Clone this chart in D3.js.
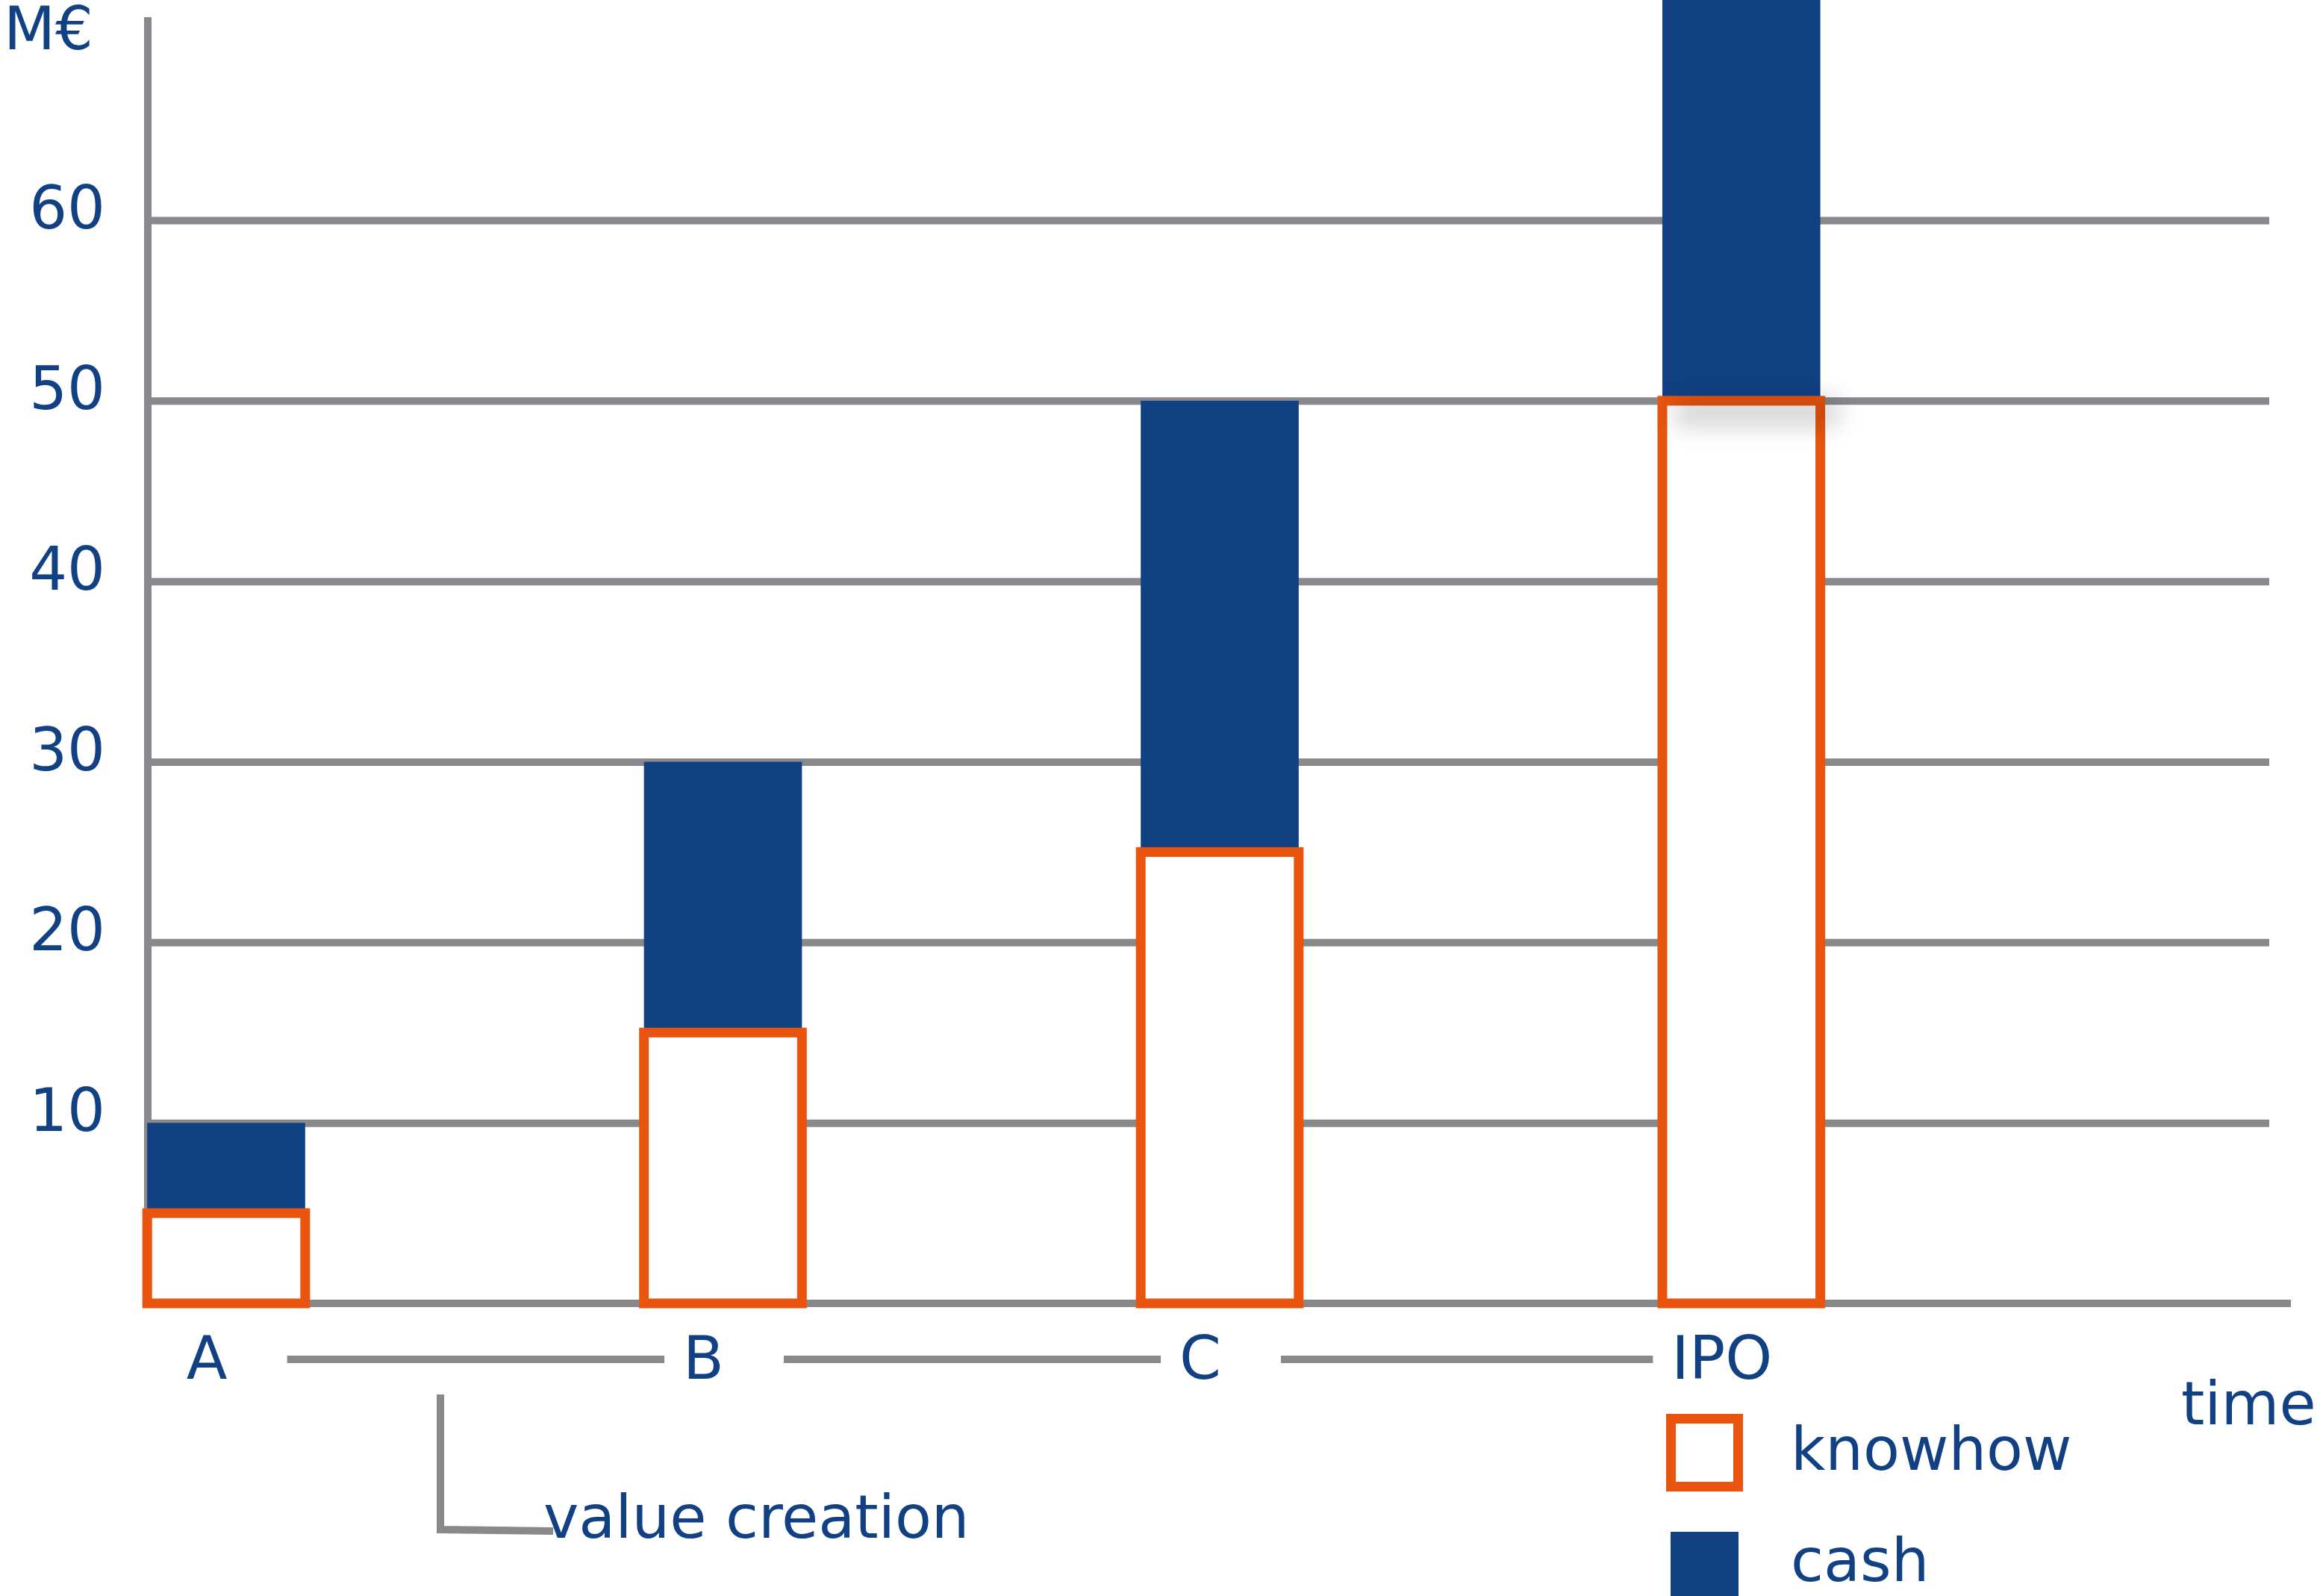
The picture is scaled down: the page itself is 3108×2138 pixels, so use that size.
<!DOCTYPE html>
<html>
<head>
<meta charset="utf-8">
<script src="https://cdn.jsdelivr.net/npm/d3@7"></script>
<style>
  html, body { margin: 0; padding: 0; background: #ffffff; }
  svg { display: block; }
  text { font-family: "DejaVu Sans", Verdana, sans-serif; }
</style>
</head>
<body>
<svg id="chart" width="3108" height="2138"></svg>
<script>
// Funding stages along the time axis
const stages = ["A", "B", "C", "IPO"];
// Position of each stage in time (stage intervals)
const stageTime = [0, 1, 2, 3.05];
// Value contributed by knowhow and by cash at each stage (M€)
const knowhow = [5, 15, 25, 50];
const cash = [5, 15, 25, 50];
// Value-axis tick labels
const yTicks = [10, 20, 30, 40, 50, 60];
const legendItems = ["knowhow", "cash"];

const BLUE = "#114183";
const ORANGE = "#E9550F";
const GREY = "#87898D";
const FONT = 80;

const svg = d3.select("#chart");
svg.append("rect").attr("width", 3108).attr("height", 2138).attr("fill", "#fff");

const axisX = 198, plotRight = 3040, baseRight = 3069;
const y = d3.scaleLinear().domain([0, 60]).range([1746, 295]);
const x = d3.scaleLinear().domain([0, 3.05]).range([303, 303 + 3.05 * 665.5]);
const barW = x(0.318) - x(0);
const strokeW = 13;

const defs = svg.append("defs");
defs.append("filter").attr("id", "soft")
  .attr("x", "-50%").attr("y", "-100%").attr("width", "200%").attr("height", "300%")
  .append("feGaussianBlur").attr("stdDeviation", 16);

// Horizontal gridlines
const grid = svg.append("g").attr("transform", `translate(${axisX},0)`)
  .call(d3.axisLeft(y).tickValues(yTicks).tickSize(-(plotRight - axisX)).tickFormat(""));
grid.select(".domain").remove();
grid.selectAll(".tick line").attr("stroke", GREY).attr("stroke-width", 10);

// Baseline and vertical axis
svg.append("line").attr("x1", axisX - 5).attr("x2", baseRight)
  .attr("y1", y(0)).attr("y2", y(0)).attr("stroke", GREY).attr("stroke-width", 10);
svg.append("line").attr("x1", axisX).attr("x2", axisX)
  .attr("y1", 23).attr("y2", y(0) + 5).attr("stroke", GREY).attr("stroke-width", 10);

// Tick labels
const yAxis = svg.append("g").attr("transform", "translate(141,0)")
  .call(d3.axisLeft(y).tickValues(yTicks).tickSize(0).tickPadding(0));
yAxis.select(".domain").remove();
yAxis.selectAll("text")
  .attr("font-size", FONT).attr("font-family", "DejaVu Sans, sans-serif")
  .attr("fill", BLUE).attr("dy", 10.5);

svg.append("text").attr("x", 5).attr("y", 66)
  .attr("font-size", FONT).attr("fill", BLUE).text("M€");

// Stacked bars
const rows = stages.map((s, i) => ({ s, t: stageTime[i], k: knowhow[i], c: cash[i] }));

const cashBars = svg.append("g").selectAll("rect").data(rows).join("rect")
  .attr("x", d => x(d.t) - barW / 2)
  .attr("y", d => y(d.k + d.c))
  .attr("width", barW)
  .attr("height", d => y(d.k) - y(d.k + d.c))
  .attr("fill", BLUE);

svg.append("g").selectAll("rect").data(rows).join("rect")
  .attr("x", d => x(d.t) - barW / 2)
  .attr("y", d => y(d.k))
  .attr("width", barW)
  .attr("height", d => y(0) - y(d.k))
  .attr("fill", "#fff")
  .attr("stroke", ORANGE)
  .attr("stroke-width", strokeW);

// The IPO cash block sits on top of its knowhow block, casting a soft shadow
const ipo = rows[rows.length - 1];
svg.append("rect")
  .attr("x", x(ipo.t) - barW / 2 + 15)
  .attr("y", y(ipo.k) - 5)
  .attr("width", barW + 10)
  .attr("height", 40)
  .attr("fill", "#000").attr("opacity", 0.16)
  .attr("filter", "url(#soft)");
cashBars.filter(d => d.s === "IPO").raise()
  .attr("height", d => y(d.k) - y(d.k + d.c) + strokeW / 2);

// Stage labels joined by timeline segments
const labels = svg.append("g").selectAll("text").data(rows).join("text")
  .attr("x", d => x(d.t) - 26)
  .attr("y", 1847)
  .attr("text-anchor", "middle")
  .attr("font-size", FONT).attr("fill", BLUE)
  .text(d => d.s);

const boxes = labels.nodes().map(n => n.getBBox());
const segs = d3.range(boxes.length - 1).map(i => ({
  x1: boxes[i].x + boxes[i].width + 80,
  x2: boxes[i + 1].x - 25
}));
svg.append("g").selectAll("line").data(segs).join("line")
  .attr("x1", d => d.x1).attr("x2", d => d.x2)
  .attr("y1", 1821).attr("y2", 1821)
  .attr("stroke", GREY).attr("stroke-width", 10);

svg.append("text").attr("x", 2922).attr("y", 1908)
  .attr("font-size", FONT).attr("fill", BLUE).text("time");

// Value-creation bracket
svg.append("path")
  .attr("d", "M590,1868 L590,2049 L741,2051")
  .attr("fill", "none").attr("stroke", GREY).attr("stroke-width", 10);
svg.append("text").attr("x", 728).attr("y", 2060)
  .attr("font-size", FONT).attr("fill", BLUE).text("value creation");

// Legend
const legend = svg.append("g");
legend.append("rect").attr("x", 2238.5).attr("y", 1900.5).attr("width", 90).attr("height", 91)
  .attr("fill", "#fff").attr("stroke", ORANGE).attr("stroke-width", strokeW);
legend.append("rect").attr("x", 2238).attr("y", 2052).attr("width", 91).attr("height", 91)
  .attr("fill", BLUE);
legend.selectAll("text").data(legendItems).join("text")
  .attr("x", 2399)
  .attr("y", (d, i) => [1969, 2118][i])
  .attr("font-size", FONT).attr("fill", BLUE)
  .text(d => d);
</script>
</body>
</html>
